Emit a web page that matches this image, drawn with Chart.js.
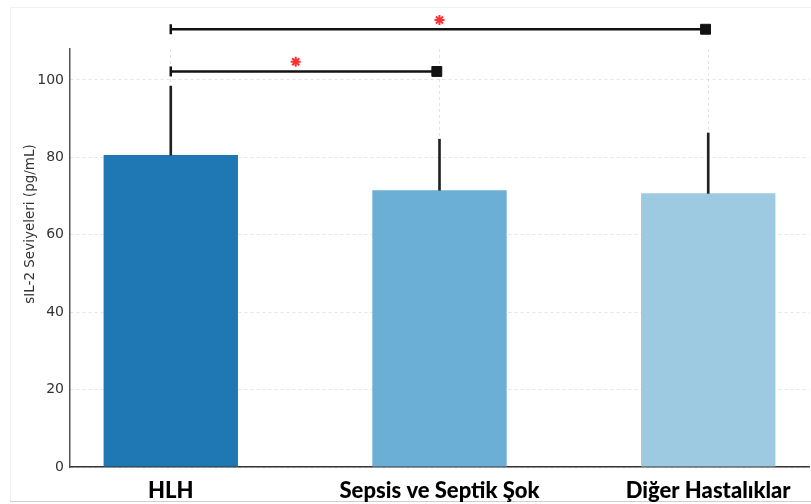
<!DOCTYPE html>
<html>
<head>
<meta charset="utf-8">
<script src="https://cdn.jsdelivr.net/npm/chart.js@4/dist/chart.umd.min.js"></script>
<style>
  html, body { margin: 0; padding: 0; background: #fff; }
  #wrap { position: relative; width: 811px; height: 504px; }
</style>
</head>
<body>
<div id="wrap"><canvas id="c" width="811" height="504"></canvas></div>
<script>
// ---- data ----
const categories = ['HLH', 'Sepsis ve Septik Şok', 'Diğer Hastalıklar'];
const means = [80.6, 71.5, 70.7];
const errorTops = [98.4, 84.7, 86.3];
const barColors = ['#1f77b4', '#6baed6', '#9ecae1'];
const yTicks = [0, 20, 40, 60, 80, 100];
// significance brackets: [fromIndex, toIndex, level]
const sigPairs = [[0, 0.99, 102.2], [0, 1.99, 113.1]];
const sigStars = [[0.465, 104.7], [1.0, 115.5]];
const yTitle = 'sIL-2 Seviyeleri (pg/mL)';

const barData = categories.map((c, i) => ({ x: i, y: means[i] }));
const errData = categories.map((c, i) => ({ x: i, y: [means[i], errorTops[i]] }));

const sigDatasets = sigPairs.map(p => ({
  type: 'line',
  data: [{ x: p[0], y: p[2] }, { x: p[1], y: p[2] }],
  borderColor: '#111',
  borderWidth: 2.5,
  pointStyle: ['line', 'rect'],
  pointRotation: [90, 0],
  pointRadius: [5, 7],
  pointBorderWidth: [2.5, 1],
  pointBackgroundColor: '#111',
  pointBorderColor: '#111',
  clip: false,
  order: 0
}));

const starDataset = {
  type: 'line',
  data: sigStars.map(s => ({ x: s[0], y: s[1] })),
  showLine: false,
  pointStyle: 'star',
  pointRadius: 5,
  pointBorderWidth: 2,
  pointBorderColor: '#ff3030',
  pointBackgroundColor: '#ff3030',
  clip: false,
  order: 0
};

let savedTop = null;
const framePlugin = {
  id: 'frame',
  beforeDraw(chart) {
    const ctx = chart.ctx;
    ctx.save();
    ctx.strokeStyle = '#f0f0f0';
    ctx.lineWidth = 1;
    ctx.beginPath();
    ctx.moveTo(10.5, 501); ctx.lineTo(10.5, 7.5); ctx.lineTo(811, 7.5);
    ctx.stroke();
    ctx.strokeStyle = '#cfcfcf';
    ctx.beginPath();
    ctx.moveTo(10, 501.5); ctx.lineTo(811, 501.5);
    ctx.stroke();
    ctx.restore();
  },
  beforeDatasetsDraw(chart) {
    // allow annotation points above the axis top to be drawn
    savedTop = chart.chartArea.top;
    chart.chartArea.top = 0;
  },
  afterDatasetsDraw(chart) {
    if (savedTop !== null) chart.chartArea.top = savedTop;
  },
  afterDraw(chart) {
    const ctx = chart.ctx;
    ctx.save();
    ctx.translate(30, 224);
    ctx.rotate(-Math.PI / 2);
    ctx.font = '13.5px "DejaVu Sans"';
    ctx.fillStyle = '#333';
    ctx.textAlign = 'center';
    ctx.textBaseline = 'middle';
    ctx.fillText(yTitle, 0, 0);
    ctx.restore();
  }
};

new Chart(document.getElementById('c'), {
  type: 'bar',
  data: {
    datasets: [
      ...sigDatasets,
      starDataset,
      {
        data: errData,
        backgroundColor: '#222',
        barThickness: 2,
        grouped: false,
        order: 1
      },
      {
        data: barData,
        backgroundColor: barColors,
        barPercentage: 0.5,
        categoryPercentage: 1.0,
        order: 5
      }
    ]
  },
  options: {
    responsive: false,
    animation: false,
    layout: { autoPadding: false, padding: { left: 0, right: 2, top: 49, bottom: 0 } },
    plugins: { legend: { display: false }, tooltip: { enabled: false } },
    scales: {
      x: {
        type: 'linear',
        offset: false,
        min: -0.375,
        max: 2.375,
        afterBuildTicks: s => { s.ticks = categories.map((c, i) => ({ value: i })); },
        afterFit: s => { s.height = 37; s.paddingRight = 0; s.paddingLeft = 0; },
        ticks: {
          callback: v => categories[v],
          font: { family: 'Lato', size: 22, weight: 900 },
          color: '#000',
          padding: 11,
          maxRotation: 0,
          autoSkip: false
        },
        grid: { offset: false, color: '#dcdcdc', lineWidth: 0.8, drawTicks: false },
        border: { display: true, color: '#333', width: 1.5, dash: [3, 3] }
      },
      y: {
        min: 0,
        max: 108,
        afterBuildTicks: s => { s.ticks = yTicks.map(v => ({ value: v })); },
        afterFit: s => { s.width = 70; s.paddingTop = 0; s.paddingBottom = 0; },
        ticks: {
          font: { family: 'DejaVu Sans', size: 14 },
          color: '#333',
          padding: 6
        },
        grid: { color: '#dcdcdc', lineWidth: 0.8, drawTicks: false },
        border: { display: true, color: '#555', width: 1.5, dash: [3, 3] }
      }
    }
  },
  plugins: [framePlugin]
});
</script>
</body>
</html>
